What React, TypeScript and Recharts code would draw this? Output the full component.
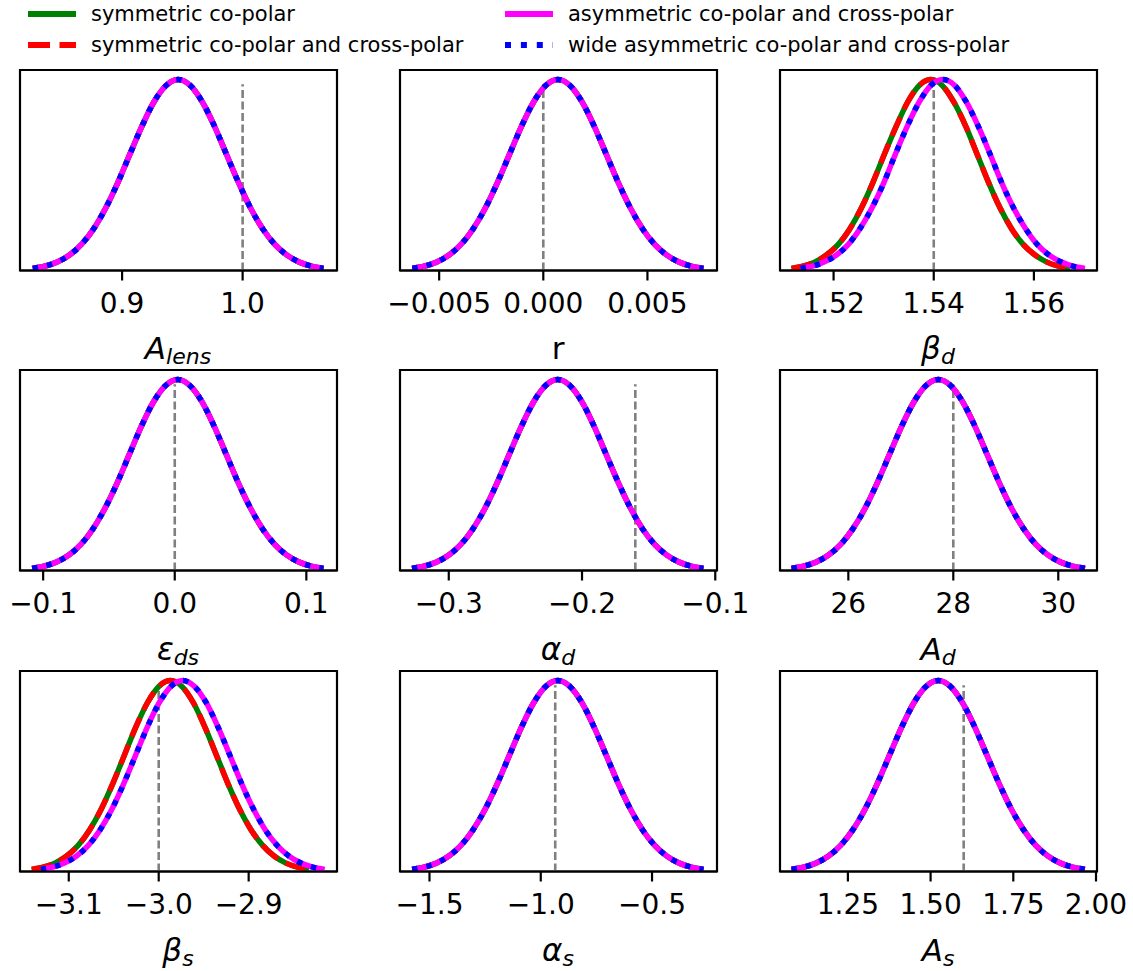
import React from 'react'
import { LineChart, Line, XAxis, YAxis, ReferenceLine, ReferenceArea } from 'recharts'

// normalised marginal density, shared by all curves (sampled at the x grids below)
const DENSITY = [0.0111, 0.0228, 0.0439, 0.0796, 0.1353, 0.2165, 0.3247, 0.4578, 0.6065, 0.7548, 0.8825, 0.9692, 1.0,
  0.9692, 0.8825, 0.7548, 0.6065, 0.4578, 0.3247, 0.2165, 0.1353, 0.0796, 0.0439, 0.0228, 0.0111]

// x grids
const A_LENS_X = [0.8259, 0.836, 0.846, 0.8561, 0.8661, 0.8762, 0.8862, 0.8963, 0.9063, 0.9164, 0.9264, 0.9365, 0.9465,
  0.9566, 0.9666, 0.9767, 0.9867, 0.9968, 1.0068, 1.0169, 1.0269, 1.037, 1.047, 1.0571, 1.0671]
const R_X = [-0.00629, -0.005708, -0.005125, -0.004543, -0.00396, -0.003378, -0.002795, -0.002213, -0.00163, -0.001048,
  -0.000465, 0.000118, 0.0007, 0.001283, 0.001865, 0.002448, 0.00303, 0.003613, 0.004195, 0.004778, 0.00536, 0.005943,
  0.006525, 0.007108, 0.00769]
const BETA_D_SYM_X = [1.5116, 1.5139, 1.5162, 1.5185, 1.5209, 1.5232, 1.5255, 1.5278, 1.5301, 1.5325, 1.5348, 1.5371, 1.5394,
  1.5417, 1.544, 1.5464, 1.5487, 1.551, 1.5533, 1.5556, 1.5579, 1.5603, 1.5626, 1.5649, 1.5672]
const BETA_D_ASYM_X = [1.5134, 1.5158, 1.5181, 1.5205, 1.5229, 1.5252, 1.5276, 1.53, 1.5323, 1.5347, 1.5371, 1.5394, 1.5418,
  1.5442, 1.5465, 1.5489, 1.5513, 1.5536, 1.556, 1.5584, 1.5607, 1.5631, 1.5655, 1.5678, 1.5702]
const EPS_DS_X = [-0.1084, -0.0992, -0.09, -0.0807, -0.0715, -0.0623, -0.0531, -0.0438, -0.0346, -0.0254, -0.0162, -0.0069,
  0.0023, 0.0115, 0.0208, 0.03, 0.0392, 0.0484, 0.0577, 0.0669, 0.0761, 0.0853, 0.0946, 0.1038, 0.113]
const ALPHA_D_X = [-0.3276, -0.3184, -0.3093, -0.3002, -0.2911, -0.282, -0.2729, -0.2638, -0.2547, -0.2455, -0.2364, -0.2273,
  -0.2182, -0.2091, -0.2, -0.1909, -0.1818, -0.1726, -0.1635, -0.1544, -0.1453, -0.1362, -0.1271, -0.118, -0.1089]
const A_D_X = [24.918, 25.151, 25.384, 25.617, 25.85, 26.083, 26.316, 26.549, 26.782, 27.015, 27.248, 27.481, 27.714,
  27.947, 28.18, 28.413, 28.646, 28.879, 29.112, 29.345, 29.578, 29.811, 30.044, 30.277, 30.51]
const BETA_S_SYM_X = [-3.1412, -3.1284, -3.1155, -3.1027, -3.0898, -3.077, -3.0641, -3.0513, -3.0384, -3.0256, -3.0127,
  -2.9999, -2.987, -2.9742, -2.9613, -2.9485, -2.9356, -2.9228, -2.9099, -2.8971, -2.8842, -2.8714, -2.8585, -2.8457, -2.8328]
const BETA_S_ASYM_X = [-3.1311, -3.118, -3.1048, -3.0917, -3.0785, -3.0654, -3.0522, -3.0391, -3.0259, -3.0128, -2.9996,
  -2.9865, -2.9733, -2.9602, -2.947, -2.9339, -2.9207, -2.9076, -2.8944, -2.8813, -2.8681, -2.855, -2.8418, -2.8287, -2.8155]
const ALPHA_S_X = [-1.578, -1.5235, -1.4689, -1.4144, -1.3598, -1.3053, -1.2507, -1.1962, -1.1416, -1.0871, -1.0325, -0.978,
  -0.9234, -0.8689, -0.8143, -0.7598, -0.7052, -0.6507, -0.5961, -0.5416, -0.487, -0.4325, -0.3779, -0.3234, -0.2688]
const A_S_X = [1.0796, 1.1166, 1.1535, 1.1905, 1.2274, 1.2644, 1.3013, 1.3383, 1.3752, 1.4122, 1.4491, 1.4861, 1.523,
  1.56, 1.5969, 1.6339, 1.6708, 1.7078, 1.7447, 1.7817, 1.8186, 1.8556, 1.8925, 1.9295, 1.9664]

// x ranges, ticks and tick labels
const DOMAINS = [
  [0.8153, 1.0783], [-0.00688, 0.00834], [1.5093, 1.5726],
  [-0.1176, 0.1233], [-0.3366, -0.0987], [24.698, 30.738],
  [-3.1542, -2.8018], [-1.6325, -0.2081], [1.0448, 2.003],
]
const TICKS = [
  [0.9, 1.0], [-0.005, 0, 0.005], [1.52, 1.54, 1.56],
  [-0.1, 0, 0.1], [-0.3, -0.2, -0.1], [26, 28, 30],
  [-3.1, -3.0, -2.9], [-1.5, -1.0, -0.5], [1.25, 1.5, 1.75, 2.0],
]
const TICK_LABELS = [
  ['0.9', '1.0'], ['\u22120.005', '0.000', '0.005'], ['1.52', '1.54', '1.56'],
  ['\u22120.1', '0.0', '0.1'], ['\u22120.3', '\u22120.2', '\u22120.1'], ['26', '28', '30'],
  ['\u22123.1', '\u22123.0', '\u22122.9'], ['\u22121.5', '\u22121.0', '\u22120.5'], ['1.25', '1.50', '1.75', '2.00'],
]
// input (true) values, grey dashed lines
const TRUTH = [1.0, 0.0, 1.54, 0.0, -0.16, 28, -3.0, -0.935, 1.6]

const SYM_X = [A_LENS_X, R_X, BETA_D_SYM_X, EPS_DS_X, ALPHA_D_X, A_D_X, BETA_S_SYM_X, ALPHA_S_X, A_S_X]
const ASYM_X = [A_LENS_X, R_X, BETA_D_ASYM_X, EPS_DS_X, ALPHA_D_X, A_D_X, BETA_S_ASYM_X, ALPHA_S_X, A_S_X]

// [symbol, subscript, italic]
const LABELS: [string, string, boolean][] = [
  ['A', 'lens', true], ['r', '', false], ['\u03b2', 'd', true],
  ['\u03b5', 'ds', true], ['\u03b1', 'd', true], ['A', 'd', true],
  ['\u03b2', 's', true], ['\u03b1', 's', true], ['A', 's', true],
]

const LEGEND = [
  { name: 'symmetric co-polar', color: '#008000', dash: undefined },
  { name: 'symmetric co-polar and cross-polar', color: '#ff0000', dash: '22 9.5' },
  { name: 'asymmetric co-polar and cross-polar', color: '#ff00ff', dash: undefined },
  { name: 'wide asymmetric co-polar and cross-polar', color: '#0000ff', dash: '6 9.9' },
]

const FONT = '"DejaVu Sans", sans-serif'
const COL_X = [19.5, 399.5, 779.5]
const ROW_Y = [69.5, 370.2, 671]
const PW = 317
const PH = 200.5
const ML = 55
const MT = 10
const AXIS_H = 60
const LW = 2.2
const CW = 5.5 // curve width

function Panel({ i }: { i: number }) {
  const col = i % 3
  const row = Math.floor(i / 3)
  const sym = SYM_X[i].map((x, k) => ({ x, y: DENSITY[k] }))
  const asym = ASYM_X[i].map((x, k) => ({ x, y: DENSITY[k] }))
  const [d0, d1] = DOMAINS[i]
  const line = { dataKey: 'y', dot: false, activeDot: false, isAnimationActive: false, type: 'monotone' as const, strokeWidth: CW }
  return (
    <div style={{ position: 'absolute', left: COL_X[col] - ML, top: ROW_Y[row] - MT }}>
      <LineChart width={PW + 2 * ML} height={PH + MT + AXIS_H} margin={{ top: MT, right: ML, bottom: 0, left: ML }}>
        <XAxis
          dataKey="x"
          type="number"
          domain={[d0, d1]}
          ticks={TICKS[i]}
          interval={0}
          allowDataOverflow
          height={AXIS_H}
          tickFormatter={(v: number, k: number) => TICK_LABELS[i][k] ?? String(v)}
          tick={{ fontSize: 28, fill: '#000', fontFamily: FONT }}
          tickLine={{ stroke: '#000', strokeWidth: LW }}
          axisLine={{ stroke: '#000', strokeWidth: LW }}
          tickSize={10}
          tickMargin={13}
        />
        <YAxis type="number" domain={[0, 1.05]} hide allowDataOverflow />
        <ReferenceLine
          segment={[{ x: TRUTH[i], y: 0 }, { x: TRUTH[i], y: 0.975 }]}
          stroke="#808080"
          strokeWidth={2.6}
          strokeDasharray="8 3.5"
        />
        <Line {...line} data={sym} stroke="#008000" />
        <Line {...line} data={sym} stroke="#ff0000" strokeDasharray="20.4 8.8" />
        <Line {...line} data={asym} stroke="#ff00ff" />
        <Line {...line} data={asym} stroke="#0000ff" strokeDasharray="5.5 9.1" />
        <ReferenceArea x1={d0} x2={d1} y1={0} y2={1.05} fill="none" stroke="#000" strokeWidth={LW} ifOverflow="visible" />
      </LineChart>
    </div>
  )
}

export default function App() {
  return (
    <div style={{ position: 'absolute', left: 0, top: 0, width: 1133, height: 971, background: '#fff', fontFamily: FONT }}>
      {LABELS.map((_, i) => <Panel key={i} i={i} />)}
      <svg width={1133} height={971} style={{ position: 'absolute', left: 0, top: 0, pointerEvents: 'none' }}>
        {LEGEND.map((l, k) => {
          const x = k < 2 ? 28 : 505
          const y = k % 2 === 0 ? 14 : 45
          return (
            <g key={l.name}>
              <line x1={x} x2={x + 48} y1={y} y2={y} stroke={l.color} strokeWidth={6} strokeDasharray={l.dash} />
              <text x={x + 63} y={y + 7} fontSize={21} fontFamily={FONT} fill="#000">{l.name}</text>
            </g>
          )
        })}
        {LABELS.map(([sym, sub, ital], i) => {
          const cx = COL_X[i % 3] + PW / 2
          const by = ROW_Y[Math.floor(i / 3)] + PH + 89
          return (
            <text key={i} x={cx} y={by} textAnchor="middle" fontSize={31} fontFamily={FONT} fill="#000">
              <tspan fontStyle={ital ? 'italic' : 'normal'}>{sym}</tspan>
              {sub && <tspan fontStyle="italic" fontSize={22} dy={5}>{sub}</tspan>}
            </text>
          )
        })}
      </svg>
    </div>
  )
}
